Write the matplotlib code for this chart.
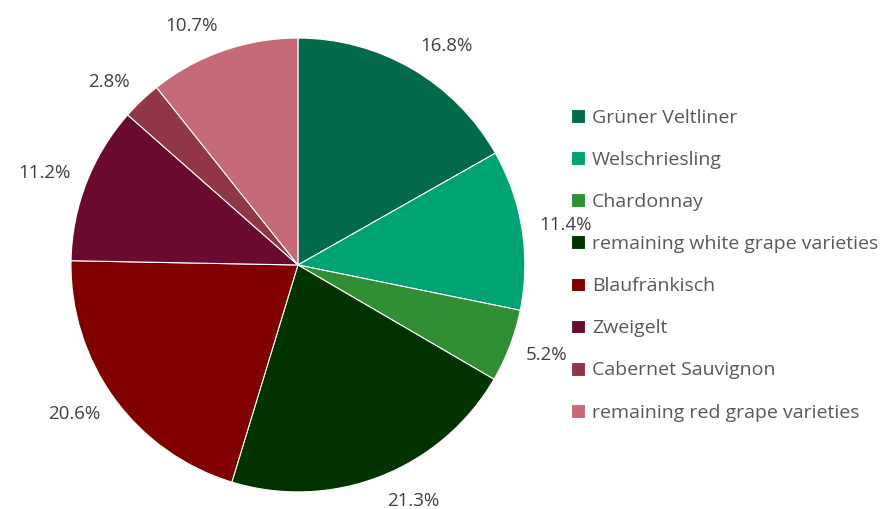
import matplotlib
matplotlib.use("Agg")
import matplotlib.pyplot as plt
import numpy as np

categories = ["Grüner Veltliner", "Welschriesling", "Chardonnay",
              "remaining white grape varieties", "Blaufränkisch", "Zweigelt",
              "Cabernet Sauvignon", "remaining red grape varieties"]
values = [16.8, 11.4, 5.2, 21.3, 20.6, 11.2, 2.8, 10.7]
colors = ["#016A4A", "#00A372", "#2F8F32", "#003300",
          "#800000", "#6A0A2E", "#913647", "#C76A78"]

plt.rcParams['font.family'] = ['Open Sans', 'DejaVu Sans']

fig = plt.figure(figsize=(8.83, 5.09), dpi=100)
ax = fig.add_axes([0.0804, 0.0334, 0.514, 0.892])
wedges, _ = ax.pie(
    values, colors=colors, startangle=90, counterclock=False,
    wedgeprops=dict(edgecolor='white', linewidth=0.8))
ax.set_xlim(-1, 1)
ax.set_ylim(-1, 1)
ax.set_aspect('equal')

# Excel-like "outside end" labels
gap = 0.075
half_h = 0.04
for w, v in zip(wedges, values):
    th = np.deg2rad((w.theta1 + w.theta2) / 2)
    c, s = np.cos(th), np.sin(th)
    x = (1 + gap) * c
    y = (1 + gap) * s + s * half_h
    ax.text(x, y, f"{v:.1f}%", ha='left' if c >= 0 else 'right', va='center',
            fontsize=13.5, color='#404040')

fig.legend(wedges, categories, loc='center left', bbox_to_anchor=(0.6467, 0.479),
           frameon=False, fontsize=14, handlelength=0.72, handleheight=0.72,
           handletextpad=0.36, labelspacing=1.24, borderpad=0, borderaxespad=0,
           labelcolor='#595959')

fig.savefig("out.png", dpi=100)
